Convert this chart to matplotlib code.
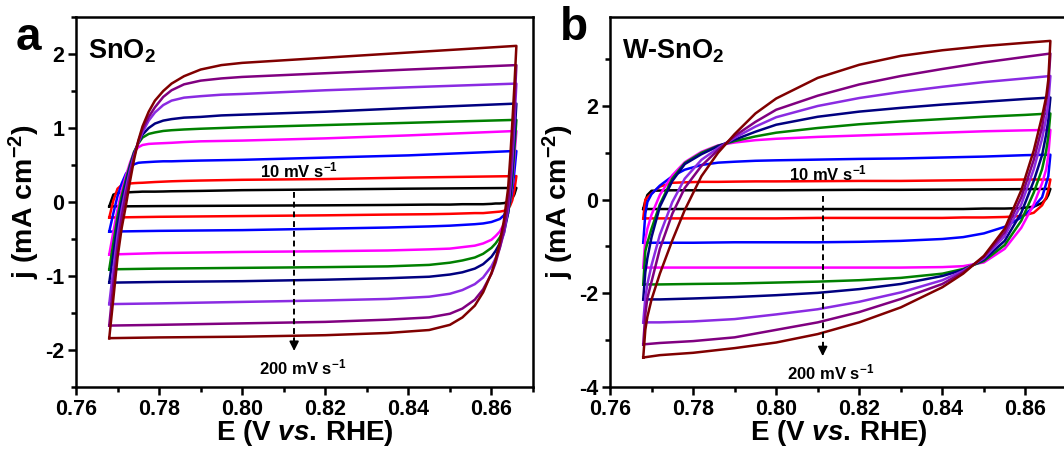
import matplotlib
matplotlib.use("Agg")
import matplotlib.pyplot as plt
from matplotlib.ticker import MultipleLocator

plt.rcParams['font.family'] = ['Liberation Sans', 'DejaVu Sans']
plt.rcParams['font.weight'] = 'bold'
plt.rcParams['mathtext.fontset'] = 'custom'
plt.rcParams['mathtext.rm'] = 'Liberation Sans:bold'
plt.rcParams['mathtext.bf'] = 'Liberation Sans:bold'
plt.rcParams['mathtext.it'] = 'Liberation Sans:italic:bold'

colors = ['#000000', '#ff0000', '#0000ff', '#ff00ff', '#008000',
          '#000080', '#8a2be2', '#800080', '#800000']

# ---- panel a: SnO2 ----
# forward (anodic) sweep potentials and reverse (cathodic) sweep potentials
E_fwd_a = [0.768, 0.769, 0.770, 0.771, 0.772, 0.773, 0.774, 0.775, 0.776, 0.7775,
           0.779, 0.781, 0.783, 0.786, 0.79, 0.795, 0.80, 0.82, 0.84, 0.866]
E_rev_a = [0.866, 0.8655, 0.865, 0.8645, 0.864, 0.863, 0.862, 0.861, 0.860, 0.858,
           0.856, 0.853, 0.85, 0.845, 0.835, 0.82, 0.80, 0.78, 0.768]

j_fwd_a = [
    [-0.06, 0.10, 0.12, 0.125, 0.13, 0.132, 0.135, 0.137, 0.14, 0.14, 0.14, 0.142, 0.145, 0.147, 0.15, 0.155, 0.16, 0.17, 0.18, 0.19],
    [-0.21, 0.02, 0.18, 0.23, 0.245, 0.25, 0.255, 0.258, 0.26, 0.265, 0.27, 0.275, 0.28, 0.285, 0.29, 0.295, 0.30, 0.31, 0.33, 0.35],
    [-0.40, -0.15, 0.08, 0.25, 0.38, 0.46, 0.51, 0.53, 0.535, 0.54, 0.545, 0.55, 0.55, 0.555, 0.56, 0.565, 0.57, 0.60, 0.63, 0.69],
    [-0.71, -0.40, -0.10, 0.15, 0.35, 0.53, 0.68, 0.74, 0.77, 0.785, 0.79, 0.795, 0.80, 0.81, 0.82, 0.825, 0.83, 0.86, 0.90, 0.96],
    [-0.91, -0.55, -0.20, 0.08, 0.30, 0.50, 0.68, 0.79, 0.87, 0.92, 0.94, 0.96, 0.97, 0.98, 0.99, 1.00, 1.01, 1.04, 1.07, 1.11],
    [-1.09, -0.70, -0.30, 0.00, 0.25, 0.47, 0.66, 0.80, 0.91, 1.00, 1.06, 1.10, 1.12, 1.14, 1.15, 1.17, 1.18, 1.22, 1.27, 1.33],
    [-1.38, -0.90, -0.45, -0.10, 0.18, 0.43, 0.64, 0.80, 0.94, 1.10, 1.21, 1.31, 1.37, 1.41, 1.43, 1.45, 1.46, 1.51, 1.55, 1.60],
    [-1.67, -1.10, -0.60, -0.20, 0.10, 0.38, 0.62, 0.82, 0.98, 1.15, 1.28, 1.42, 1.51, 1.59, 1.64, 1.67, 1.69, 1.74, 1.79, 1.85],
    [-1.84, -1.30, -0.75, -0.35, -0.05, 0.28, 0.58, 0.83, 1.02, 1.22, 1.37, 1.50, 1.60, 1.70, 1.79, 1.85, 1.88, 1.95, 2.02, 2.11],
]
j_rev_a = [
    [0.19, 0.10, 0.05, 0.02, 0.0, -0.015, -0.02, -0.02, -0.025, -0.03, -0.03, -0.03, -0.035, -0.035, -0.04, -0.045, -0.05, -0.055, -0.06],
    [0.35, 0.15, 0.02, -0.05, -0.09, -0.12, -0.13, -0.135, -0.14, -0.15, -0.15, -0.155, -0.16, -0.165, -0.17, -0.18, -0.19, -0.20, -0.21],
    [0.69, 0.40, 0.15, 0.0, -0.08, -0.18, -0.23, -0.25, -0.27, -0.29, -0.30, -0.31, -0.32, -0.33, -0.345, -0.36, -0.38, -0.39, -0.40],
    [0.96, 0.60, 0.25, 0.02, -0.12, -0.30, -0.40, -0.46, -0.51, -0.56, -0.59, -0.61, -0.63, -0.64, -0.655, -0.665, -0.675, -0.69, -0.71],
    [1.11, 0.70, 0.30, 0.02, -0.15, -0.36, -0.48, -0.56, -0.62, -0.70, -0.75, -0.79, -0.82, -0.85, -0.87, -0.88, -0.89, -0.90, -0.91],
    [1.33, 0.85, 0.40, 0.08, -0.15, -0.42, -0.56, -0.66, -0.74, -0.84, -0.90, -0.95, -0.98, -1.01, -1.03, -1.05, -1.07, -1.08, -1.09],
    [1.60, 1.05, 0.55, 0.18, -0.10, -0.42, -0.62, -0.76, -0.87, -1.02, -1.11, -1.19, -1.24, -1.28, -1.31, -1.33, -1.35, -1.37, -1.38],
    [1.85, 1.25, 0.75, 0.32, -0.02, -0.38, -0.62, -0.82, -0.97, -1.18, -1.32, -1.44, -1.51, -1.56, -1.59, -1.62, -1.64, -1.66, -1.67],
    [2.11, 1.55, 1.05, 0.58, 0.18, -0.25, -0.55, -0.78, -0.96, -1.22, -1.40, -1.56, -1.66, -1.73, -1.77, -1.80, -1.82, -1.83, -1.84],
]

# ---- panel b: W-SnO2 ----
E_fwd_b = [0.768, 0.7685, 0.769, 0.770, 0.772, 0.775, 0.778, 0.782, 0.786, 0.79,
           0.795, 0.80, 0.81, 0.82, 0.83, 0.84, 0.85, 0.86, 0.866]
E_rev_b = [0.866, 0.8655, 0.865, 0.864, 0.862, 0.859, 0.855, 0.85, 0.845,
           0.84, 0.83, 0.82, 0.81, 0.80, 0.79, 0.78, 0.772, 0.768]

j_fwd_b = [
    [-0.20, -0.03, 0.10, 0.19, 0.195, 0.20, 0.20, 0.20, 0.20, 0.20, 0.20, 0.20, 0.205, 0.21, 0.21, 0.215, 0.22, 0.225, 0.23],
    [-0.40, 0.0, 0.05, 0.13, 0.28, 0.36, 0.37, 0.38, 0.38, 0.385, 0.39, 0.39, 0.395, 0.40, 0.40, 0.41, 0.42, 0.43, 0.43],
    [-0.92, -0.30, -0.05, 0.12, 0.30, 0.50, 0.64, 0.74, 0.79, 0.81, 0.83, 0.84, 0.855, 0.87, 0.88, 0.90, 0.92, 0.95, 0.96],
    [-1.45, -0.85, -0.62, -0.32, 0.10, 0.52, 0.80, 1.02, 1.16, 1.22, 1.27, 1.30, 1.34, 1.37, 1.40, 1.43, 1.46, 1.48, 1.49],
    [-1.81, -1.10, -0.92, -0.62, -0.10, 0.45, 0.78, 1.00, 1.15, 1.25, 1.35, 1.43, 1.53, 1.61, 1.67, 1.72, 1.77, 1.81, 1.84],
    [-2.13, -1.55, -1.25, -0.80, -0.15, 0.40, 0.76, 0.97, 1.14, 1.28, 1.45, 1.60, 1.77, 1.88, 1.96, 2.03, 2.09, 2.15, 2.18],
    [-2.62, -2.10, -1.80, -1.40, -0.75, -0.05, 0.45, 0.85, 1.10, 1.32, 1.56, 1.76, 2.00, 2.17, 2.30, 2.41, 2.51, 2.59, 2.64],
    [-3.09, -2.45, -2.10, -1.75, -1.05, -0.30, 0.25, 0.72, 1.06, 1.36, 1.66, 1.92, 2.22, 2.46, 2.64, 2.79, 2.93, 3.05, 3.12],
    [-3.37, -2.78, -2.50, -2.13, -1.58, -0.87, -0.22, 0.50, 1.00, 1.40, 1.84, 2.16, 2.60, 2.88, 3.07, 3.19, 3.28, 3.35, 3.39],
]
j_rev_b = [
    [0.23, 0.10, 0.02, -0.07, -0.15, -0.18, -0.19, -0.19, -0.20, -0.20, -0.20, -0.20, -0.20, -0.20, -0.20, -0.20, -0.20, -0.20],
    [0.43, 0.20, 0.05, -0.12, -0.28, -0.35, -0.37, -0.38, -0.38, -0.39, -0.39, -0.39, -0.39, -0.40, -0.40, -0.40, -0.40, -0.40],
    [0.96, 0.50, 0.35, 0.05, -0.15, -0.38, -0.58, -0.72, -0.80, -0.84, -0.88, -0.90, -0.91, -0.91, -0.91, -0.92, -0.92, -0.92],
    [1.49, 0.95, 0.65, 0.35, -0.10, -0.60, -1.05, -1.34, -1.42, -1.44, -1.45, -1.45, -1.45, -1.45, -1.45, -1.45, -1.45, -1.45],
    [1.84, 1.35, 1.05, 0.65, 0.15, -0.45, -0.97, -1.31, -1.48, -1.58, -1.67, -1.72, -1.75, -1.77, -1.79, -1.80, -1.81, -1.81],
    [2.18, 1.70, 1.40, 0.95, 0.40, -0.28, -0.88, -1.28, -1.50, -1.63, -1.80, -1.91, -1.99, -2.04, -2.08, -2.11, -2.13, -2.13],
    [2.64, 2.05, 1.75, 1.30, 0.65, -0.10, -0.78, -1.25, -1.52, -1.72, -1.98, -2.18, -2.34, -2.45, -2.55, -2.60, -2.62, -2.62],
    [3.12, 2.41, 2.10, 1.55, 0.85, 0.05, -0.70, -1.22, -1.55, -1.80, -2.12, -2.40, -2.62, -2.78, -2.94, -3.02, -3.06, -3.09],
    [3.39, 2.56, 2.20, 1.78, 1.05, 0.20, -0.62, -1.20, -1.58, -1.87, -2.30, -2.62, -2.87, -3.05, -3.17, -3.27, -3.32, -3.37],
]


def draw_panel(ax, E_fwd, j_fwd, E_rev, j_rev):
    for c, jf, jr in zip(colors, j_fwd, j_rev):
        ax.plot(E_fwd + E_rev, jf + jr, color=c, lw=1.8, solid_joinstyle='round')


def style_axes(ax, ylim, ymajor, yminor):
    ax.set_xlim(0.76, 0.87)
    ax.set_ylim(*ylim)
    ax.xaxis.set_major_locator(MultipleLocator(0.02))
    ax.xaxis.set_minor_locator(MultipleLocator(0.01))
    ax.yaxis.set_major_locator(MultipleLocator(ymajor))
    ax.yaxis.set_minor_locator(MultipleLocator(yminor))
    ax.xaxis.set_major_formatter(plt.FormatStrFormatter('%.2f'))
    ax.yaxis.set_major_formatter(plt.FormatStrFormatter('%d'))
    ax.tick_params(which='both', direction='out', width=1.8, labelsize=15.5,
                   top=False, right=False, pad=2.5)
    ax.tick_params(which='major', length=6)
    ax.tick_params(which='minor', length=3.5)
    for s in ax.spines.values():
        s.set_linewidth(1.8)
    ax.set_xlabel(r'E (V $\mathit{vs.}\,$RHE)', fontsize=20, fontweight='bold', labelpad=-1)
    ax.set_ylabel(r'j (mA cm$^{-2}$)', fontsize=20.5, fontweight='bold', labelpad=2)


def rate_arrow(ax, x, y0, y1, t0, t1):
    ax.plot([x, x], [y0, y1 + 0.1], color='k', lw=1.4, ls=(0, (3, 2)))
    ax.annotate('', xy=(x, y1), xytext=(x, y1 + 0.25),
                arrowprops=dict(arrowstyle='-|>', color='k', lw=1.2, mutation_scale=14))
    ax.text(x + 0.0012, t0, r'10 mV s$^{-1}$', fontsize=12, fontweight='bold', ha='center', va='center')
    ax.text(x + 0.002, t1, r'200 mV s$^{-1}$', fontsize=12, fontweight='bold', ha='center', va='center')


fig = plt.figure(figsize=(10.64, 4.5), dpi=100)
ax_a = fig.add_axes([76 / 1064, 63 / 450, 457 / 1064, 370 / 450])
ax_b = fig.add_axes([610 / 1064, 63 / 450, 457 / 1064, 370 / 450])

draw_panel(ax_a, E_fwd_a, j_fwd_a, E_rev_a, j_rev_a)
style_axes(ax_a, (-2.5, 2.5), 1, 0.5)
rate_arrow(ax_a, 0.8125, 0.13, -2.05, 0.42, -2.23)
ax_a.text(0.026, 0.945, r'SnO$_2$', transform=ax_a.transAxes, fontsize=19.5,
          fontweight='bold', va='top', ha='left')

draw_panel(ax_b, E_fwd_b, j_fwd_b, E_rev_b, j_rev_b)
style_axes(ax_b, (-4, 3.9), 2, 1)
rate_arrow(ax_b, 0.8112, 0.07, -3.4, 0.57, -3.69)
ax_b.text(0.026, 0.945, r'W-SnO$_2$', transform=ax_b.transAxes, fontsize=19.5,
          fontweight='bold', va='top', ha='left')

fig.text(16 / 1064, 1 - 16 / 450, 'a', fontsize=33, fontweight='bold', va='top', ha='left')
fig.text(560 / 1064, 1 - 6 / 450, 'b', fontsize=33, fontweight='bold', va='top', ha='left')

fig.savefig('out.png', dpi=100)
